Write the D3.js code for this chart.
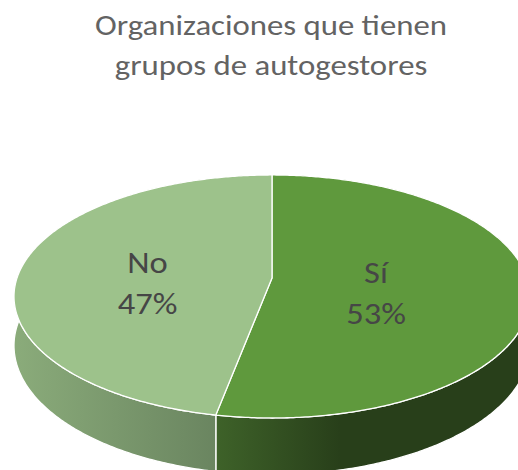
<!DOCTYPE html>
<html>
<head>
<meta charset="utf-8">
<script src="https://cdn.jsdelivr.net/npm/d3@7"></script>
<style>
  body { margin: 0; background: #fff; }
  svg { display: block; font-family: Carlito, Lato, "Open Sans", sans-serif; }
</style>
</head>
<body>
<svg id="chart" width="518" height="470"></svg>
<script>
var titleLines = ['Organizaciones que tienen', 'grupos de autogestores']
var categories = ['Sí', 'No']
var values = [53, 47]
var topColors = ['#5f993d', '#9dc28b']
var sideColors = [['#3e6229', '#283f1a'], ['#8aab7a', '#6a8560']]

var svg = d3.select('#chart')

// projected pie geometry (perspective tilt)
var cx = 272
var cy = 278
var rx = 255
var ry = 118.7
var persp = 0.152
var depth = 48
var textStretch = 1.15

function project (angle, r, h) {
  var u = Math.sin(angle) * r
  var v = Math.cos(angle) * r
  var k = 1 / (1 + persp * v)
  return [cx + rx * u * k, cy - ry * v * k + h * k]
}

var pie = d3.pie().sort(null).value(function (d) { return d })
var arcs = pie(values)

var line = d3.line()

function arcPoints (a0, a1, h) {
  var n = Math.max(2, Math.ceil((a1 - a0) / 0.01))
  return d3.range(n + 1).map(function (i) {
    return project(a0 + (a1 - a0) * i / n, 1, h)
  })
}

var defs = svg.append('defs')
var frontX = project(arcs[0].endAngle, 1, 0)[0]
sideColors.forEach(function (c, i) {
  var g = defs.append('linearGradient')
    .attr('id', 'side' + i)
    .attr('gradientUnits', 'userSpaceOnUse')
    .attr('x1', i === 0 ? frontX : cx - rx)
    .attr('x2', i === 0 ? 340 : frontX)
    .attr('y1', 0).attr('y2', 0)
  g.append('stop').attr('offset', 0).attr('stop-color', c[0])
  g.append('stop').attr('offset', 1).attr('stop-color', c[1])
})

// outer walls
var gSide = svg.append('g').attr('class', 'sides')
arcs.forEach(function (a, i) {
  var topEdge = arcPoints(a.startAngle, a.endAngle, 0)
  var bottomEdge = arcPoints(a.startAngle, a.endAngle, depth).reverse()
  gSide.append('path')
    .attr('d', line(topEdge.concat(bottomEdge)) + 'Z')
    .attr('fill', 'url(#side' + i + ')')
    .attr('stroke', '#fff')
    .attr('stroke-width', 1.3)
    .attr('stroke-linejoin', 'round')
})

// top faces
var gTop = svg.append('g').attr('class', 'tops')
arcs.forEach(function (a, i) {
  var pts = [project(0, 0, 0)].concat(arcPoints(a.startAngle, a.endAngle, 0))
  gTop.append('path')
    .attr('d', line(pts) + 'Z')
    .attr('fill', topColors[i])
    .attr('stroke', '#fff')
    .attr('stroke-width', 1.3)
    .attr('stroke-linejoin', 'round')
})

// data labels
var total = d3.sum(values)
var gLabels = svg.append('g').attr('class', 'labels')
arcs.forEach(function (a, i) {
  var p = project((a.startAngle + a.endAngle) / 2, 0.45, 0)
  var lines = [categories[i], Math.round(values[i] / total * 100) + '%']
  lines.forEach(function (s, j) {
    gLabels.append('text')
      .attr('transform', 'translate(' + (p[0] - 11) + ',' + (p[1] + 0 + j * 41) + ') scale(' + textStretch + ',1)')
      .attr('text-anchor', 'middle')
      .attr('fill', '#464646')
      .attr('font-size', 30)
      .text(s)
  })
})

// title
var gTitle = svg.append('g').attr('class', 'title')
titleLines.forEach(function (s, i) {
  gTitle.append('text')
    .attr('transform', 'translate(271,' + (35 + i * 40) + ') scale(' + textStretch + ',1)')
    .attr('text-anchor', 'middle')
    .attr('fill', '#636363')
    .attr('font-size', 28.5)
    .text(s)
})
</script>
</body>
</html>
